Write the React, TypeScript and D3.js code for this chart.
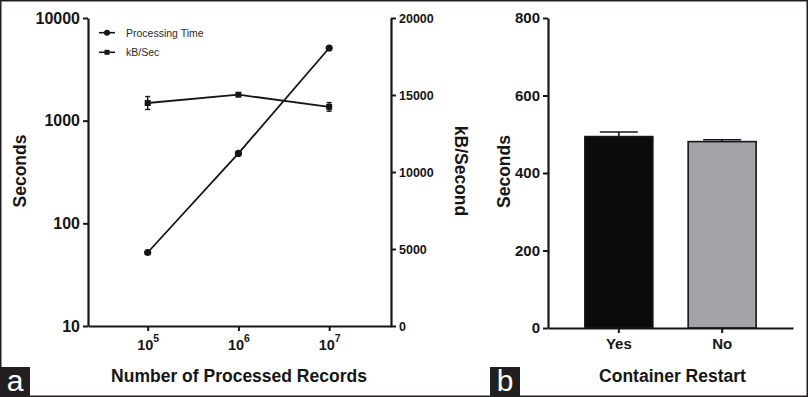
import { useCallback, useEffect, useRef } from 'react';
import * as d3 from 'd3';

// panel a: processing time / throughput vs records
const records = [1e5, 1e6, 1e7];
const processingTime = [52, 480, 5100];
const kbPerSec = [14480, 15020, 14230];
const kbPerSecErr = [420, 80, 280];
const leftTicks = [10, 100, 1000, 10000];
const rightTicks = [0, 5000, 10000, 15000, 20000];

// panel b: container restart
const restartCats = ['Yes', 'No'];
const restartSeconds = [494, 481];
const restartErr = [12, 5];
const restartTicks = [0, 200, 400, 600, 800];
const restartFills = ['#0b0b0c', '#a3a3a7'];

const W = 808,
  H = 397;
const FONT = "'Liberation Sans', Arial, Helvetica, sans-serif";
const INK = '#161616';

export default function App() {
  const ref = useRef<HTMLDivElement>(null);

  const draw = useCallback(() => {
    const el = ref.current;
    if (!el) return;
    const root = d3.select(el);
    root.select('svg').remove();

    const svg = root
      .append('svg')
      .attr('width', W)
      .attr('height', H)
      .style('position', 'absolute')
      .style('left', 0)
      .style('top', 0)
      .attr('font-family', FONT);

    svg.append('rect').attr('width', W).attr('height', H).attr('fill', 'white');

    const styleAxis = (g: d3.Selection<SVGGElement, unknown, null, undefined>, size: number) => {
      g.select('.domain').attr('stroke', INK).attr('stroke-width', 2.2);
      g.selectAll('.tick line').attr('stroke', INK).attr('stroke-width', 2);
      g.selectAll('.tick text')
        .attr('fill', INK)
        .attr('font-size', size)
        .attr('font-weight', 700)
        .attr('font-family', FONT);
    };

    // ---------- panel a ----------
    const ax0 = 88,
      ax1 = 391,
      ay0 = 18,
      ay1 = 326;

    const x = d3.scaleLog().domain([2.2e4, 4.8e7]).range([ax0, ax1]);
    const yL = d3.scaleLog().domain([10, 10000]).range([ay1, ay0]);
    const yR = d3.scaleLinear().domain([0, 20000]).range([ay1, ay0]);

    const gl = svg
      .append('g')
      .attr('transform', `translate(${ax0},0)`)
      .call(
        d3
          .axisLeft(yL)
          .tickValues(leftTicks)
          .tickFormat(d3.format('d'))
          .tickSize(5)
          .tickSizeOuter(0)
          .tickPadding(3)
      );
    styleAxis(gl, 16);

    const gr = svg
      .append('g')
      .attr('transform', `translate(${ax1},0)`)
      .call(
        d3
          .axisRight(yR)
          .tickValues(rightTicks)
          .tickFormat(d3.format('d'))
          .tickSize(5)
          .tickSizeOuter(0)
          .tickPadding(3)
      );
    styleAxis(gr, 12.5);

    const gb = svg
      .append('g')
      .attr('transform', `translate(0,${ay1})`)
      .call(
        d3
          .axisBottom(x)
          .tickValues(records)
          .tickFormat(() => '')
          .tickSize(5)
          .tickSizeOuter(0)
      );
    styleAxis(gb, 14);
    gb.selectAll<SVGGElement, number>('.tick').each(function (d) {
      const t = d3
        .select(this)
        .append('text')
        .attr('y', 24)
        .attr('text-anchor', 'middle')
        .attr('fill', INK)
        .attr('font-weight', 700)
        .attr('font-family', FONT);
      t.append('tspan').attr('font-size', 14.5).text('10');
      t.append('tspan')
        .attr('font-size', 10.5)
        .attr('dy', -8)
        .text(String(Math.round(Math.log10(d))));
    });

    // processing time line
    svg
      .append('path')
      .datum(records.map((r, i) => [r, processingTime[i]] as [number, number]))
      .attr('fill', 'none')
      .attr('stroke', INK)
      .attr('stroke-width', 1.8)
      .attr(
        'd',
        d3
          .line<[number, number]>()
          .x((d) => x(d[0]))
          .y((d) => yL(d[1]))
      );
    svg
      .append('g')
      .selectAll('circle')
      .data(records)
      .join('circle')
      .attr('cx', (d) => x(d))
      .attr('cy', (_, i) => yL(processingTime[i]))
      .attr('r', 3.6)
      .attr('fill', INK);

    // kB/sec line
    svg
      .append('path')
      .datum(records.map((r, i) => [r, kbPerSec[i]] as [number, number]))
      .attr('fill', 'none')
      .attr('stroke', INK)
      .attr('stroke-width', 1.8)
      .attr(
        'd',
        d3
          .line<[number, number]>()
          .x((d) => x(d[0]))
          .y((d) => yR(d[1]))
      );
    const eb = svg.append('g').attr('stroke', INK).attr('stroke-width', 1.4);
    records.forEach((r, i) => {
      const cx = x(r);
      const top = yR(kbPerSec[i] + kbPerSecErr[i]);
      const bot = yR(kbPerSec[i] - kbPerSecErr[i]);
      eb.append('line').attr('x1', cx).attr('x2', cx).attr('y1', top).attr('y2', bot);
      eb.append('line').attr('x1', cx - 2.5).attr('x2', cx + 2.5).attr('y1', top).attr('y2', top);
      eb.append('line').attr('x1', cx - 2.5).attr('x2', cx + 2.5).attr('y1', bot).attr('y2', bot);
    });
    svg
      .append('g')
      .selectAll('rect')
      .data(records)
      .join('rect')
      .attr('x', (d) => x(d) - 3)
      .attr('y', (_, i) => yR(kbPerSec[i]) - 3)
      .attr('width', 6)
      .attr('height', 6)
      .attr('fill', INK);

    // legend
    const leg = svg.append('g').attr('font-size', 10.5).attr('fill', '#2a2a2a');
    leg.append('line').attr('x1', 99).attr('x2', 115).attr('y1', 32.7).attr('y2', 32.7).attr('stroke', INK).attr('stroke-width', 1.6);
    leg.append('circle').attr('cx', 107).attr('cy', 32.7).attr('r', 3).attr('fill', INK);
    leg.append('text').attr('x', 126).attr('y', 36.5).text('Processing Time');
    leg.append('line').attr('x1', 99).attr('x2', 115).attr('y1', 52.3).attr('y2', 52.3).attr('stroke', INK).attr('stroke-width', 1.6);
    leg.append('rect').attr('x', 104.5).attr('y', 49.8).attr('width', 5).attr('height', 5).attr('fill', INK);
    leg.append('text').attr('x', 126).attr('y', 56).text('kB/Sec');

    // titles
    const title = (tx: number, ty: number, rot: number, txt: string) =>
      svg
        .append('text')
        .attr('transform', `translate(${tx},${ty}) rotate(${rot})`)
        .attr('text-anchor', 'middle')
        .attr('font-size', 17.5)
        .attr('font-weight', 700)
        .attr('fill', INK)
        .text(txt);
    title(26, 171, -90, 'Seconds');
    title(455, 171, 90, 'kB/Second');
    title(239, 382, 0, 'Number of Processed Records');

    // ---------- panel b ----------
    const bx0 = 548,
      bx1 = 793,
      by0 = 18,
      by1 = 328;
    const xb = d3
      .scaleBand<string>()
      .domain(restartCats)
      .range([bx0, bx1])
      .paddingInner(0.342)
      .paddingOuter(0.357);
    const yb = d3.scaleLinear().domain([0, 800]).range([by1, by0]);

    // bars
    svg
      .append('g')
      .selectAll('rect')
      .data(restartCats)
      .join('rect')
      .attr('x', (d) => xb(d)!)
      .attr('y', (_, i) => yb(restartSeconds[i]))
      .attr('width', xb.bandwidth())
      .attr('height', (_, i) => by1 - yb(restartSeconds[i]))
      .attr('fill', (_, i) => restartFills[i])
      .attr('stroke', INK)
      .attr('stroke-width', 1.6);

    const ebb = svg.append('g').attr('stroke', INK).attr('stroke-width', 1.6);
    restartCats.forEach((c, i) => {
      const cx = xb(c)! + xb.bandwidth() / 2;
      const top = yb(restartSeconds[i] + restartErr[i]);
      ebb.append('line').attr('x1', cx).attr('x2', cx).attr('y1', yb(restartSeconds[i])).attr('y2', top);
      ebb.append('line').attr('x1', cx - 19).attr('x2', cx + 19).attr('y1', top).attr('y2', top);
    });

    const gbl = svg
      .append('g')
      .attr('transform', `translate(${bx0},0)`)
      .call(d3.axisLeft(yb).tickValues(restartTicks).tickSize(5).tickSizeOuter(0).tickPadding(3));
    styleAxis(gbl, 15);

    const gbb = svg
      .append('g')
      .attr('transform', `translate(0,${by1})`)
      .call(d3.axisBottom(xb).tickSize(5).tickSizeOuter(0).tickPadding(5));
    styleAxis(gbb, 15);

    title(510, 171.5, -90, 'Seconds');
    title(672.5, 382, 0, 'Container Restart');

    // panel letters
    const letter = (lx: number, txt: string) => {
      svg.append('rect').attr('x', lx).attr('y', 367).attr('width', 30).attr('height', 30).attr('fill', '#231f20');
      svg
        .append('text')
        .attr('x', lx + 15)
        .attr('y', 391)
        .attr('text-anchor', 'middle')
        .attr('font-size', 30)
        .attr('fill', 'white')
        .text(txt);
    };
    letter(0, 'a');
    letter(490, 'b');

    // frame
    svg
      .append('rect')
      .attr('x', 0.75)
      .attr('y', 0.75)
      .attr('width', W - 1.5)
      .attr('height', H - 1.5)
      .attr('fill', 'none')
      .attr('stroke', '#231f20')
      .attr('stroke-width', 1.5);
  }, []);

  useEffect(() => {
    draw();
    const el = ref.current;
    return () => {
      if (el) d3.select(el).select('svg').remove();
    };
  }, [draw]);

  return <div ref={ref} />;
}
